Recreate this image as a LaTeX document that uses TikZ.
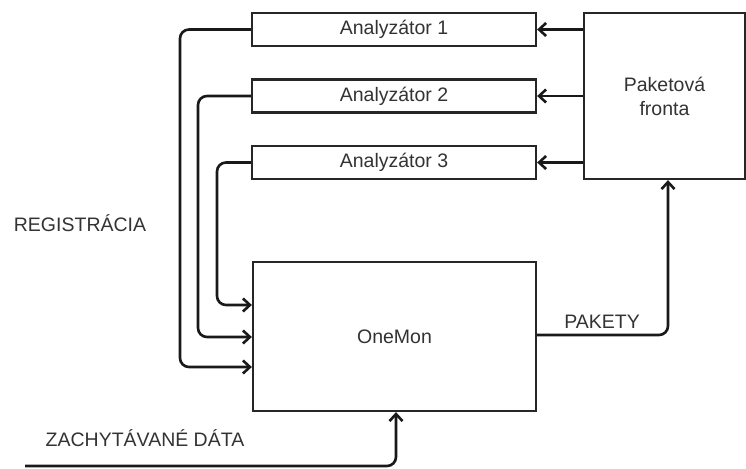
\documentclass[tikz,border=0pt]{standalone}
\usepackage{fontspec}
\setmainfont{Liberation Sans}
\usetikzlibrary{arrows.meta,calc}
\begin{document}
\begin{tikzpicture}[x=1pt,y=-1pt,
  every node/.style={font=\fontsize{19.5}{24}\selectfont, text=black!80},
  box/.style={draw=black!85, line width=2.3pt, fill=white, inner sep=0pt},
  anbox/.style={box, minimum width=284pt, minimum height=33pt},
  conn/.style={line width=2.6pt, draw=black!90, rounded corners=9pt},
  arr/.style={conn, -{Straight Barb[length=7pt,width=13pt,line width=2.6pt]}},
  lbl/.style={inner sep=0pt}
]
\useasboundingbox (0,0) rectangle (746,468);

\node[anbox] (anal1) at (394,29.5) {Analyzátor 1};
\node[anbox] (anal2) at (394,96) {Analyzátor 2};
\node[anbox] (anal3) at (394,162.5) {Analyzátor 3};
\node[box, minimum width=161pt, minimum height=166pt, align=center] (fronta) at (664.5,96) {Paketová\\fronta};
\node[box, minimum width=283pt, minimum height=149pt] (onemon) at (394.5,336.5) {OneMon};

\node[lbl] (reg) at (80,223) {REGISTRÁCIA};
\node[lbl] (zach) at (145,438) {ZACHYTÁVANÉ DÁTA};
\node[lbl] (pak) at (602,322) {PAKETY};

% arrows from fronta to analyzers
\draw[arr] (fronta.west |- anal1.east) -- (anal1.east);
\draw[arr] (fronta.west |- anal2.east) -- (anal2.east);
\draw[arr] (fronta.west |- anal3.east) -- (anal3.east);

% registration connectors
\coordinate (c1) at (180,0);
\coordinate (c2) at (198,0);
\coordinate (c3) at (217,0);
\coordinate (e1) at (0,367);
\coordinate (e2) at (0,337);
\coordinate (e3) at (0,305);
\draw[arr] (anal1.west) -- (anal1.west -| c1) |- (onemon.west |- e1);
\draw[arr] (anal2.west) -- (anal2.west -| c2) |- (onemon.west |- e2);
\draw[arr] (anal3.west) -- (anal3.west -| c3) |- (onemon.west |- e3);

% pakety
\coordinate (pk) at (668,335);
\draw[arr] (onemon.east |- pk) -- (pk) -- (pk |- fronta.south);

% captured data
\coordinate (cs) at (25,466);
\coordinate (cin) at (396,466);
\draw[arr] (cs) -- (cin) -- (cin |- onemon.south);
\end{tikzpicture}
\end{document}
